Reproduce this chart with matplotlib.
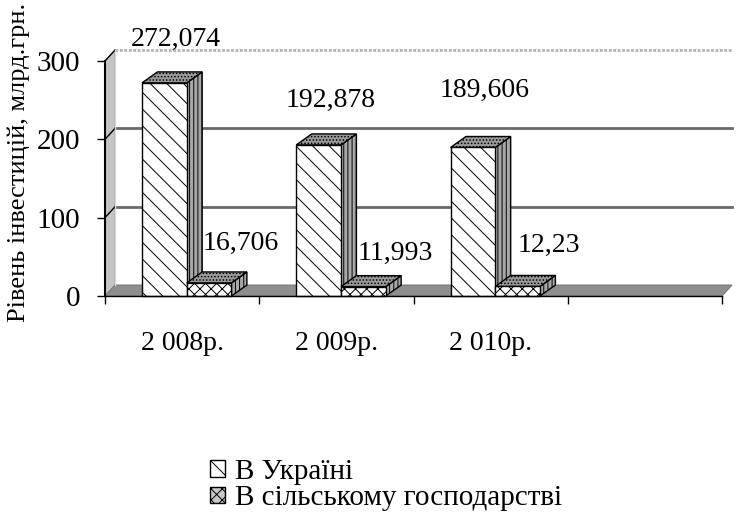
import matplotlib
matplotlib.use("Agg")
import matplotlib.pyplot as plt
from matplotlib.patches import Polygon, Patch
import numpy as np

plt.rcParams['font.family'] = ['Liberation Serif', 'DejaVu Serif']
plt.rcParams['hatch.linewidth'] = 0.7

# дані
years = ['2 008р.', '2 009р.', '2 010р.']
ukraine = [272.074, 192.878, 189.606]
agri = [16.706, 11.993, 12.23]
ukraine_lbl = ['272,074', '192,878', '189,606']
agri_lbl = ['16,706', '11,993', '12,23']
series_names = ['В Україні', 'В сільському господарстві']
yticks = [0, 100, 200, 300]

# зсув підписів (вручну, як в оригіналі)
uk_dy = [55, 57, 73]
ag_dy = [51, 43, 52]

fig = plt.figure(figsize=(7.4, 5.13), dpi=100)
ax = fig.add_axes([105/740, 1-296/513, 617/740, 235/513])
ax.set_xlim(0, 4)
ax.set_ylim(0, 300)

# глибина "3D"
fdx, fdy = 0.065, 14      # стінки / підлога
bdx, bdy = 0.10, 14       # стовпчики
ymax = 300

# бічна стінка
ax.add_patch(Polygon([(0, 0), (fdx, fdy), (fdx, ymax + fdy), (0, ymax)],
                     closed=True, fc='#c4c4c4', ec='#9a9a9a', lw=0.8, clip_on=False, zorder=1))
# підлога
ax.add_patch(Polygon([(0, 0), (4, 0), (4 + fdx, fdy), (fdx, fdy)],
                     closed=True, fc='#8e8e8e', ec='#7a7a7a', lw=0.8, clip_on=False, zorder=1))
# сітка на задній стінці
for v in yticks[1:]:
    if v == ymax:
        ax.plot([fdx, 4 + fdx], [v + fdy, v + fdy], color='#b5b5b5', lw=2, ls=(0, (1, 0.6)),
                clip_on=False, zorder=1)
    else:
        ax.plot([fdx, 4 + fdx], [v + fdy, v + fdy], color='#6a6a6a', lw=2, clip_on=False, zorder=1)
    ax.plot([0, fdx], [v, v + fdy], color='black', lw=1, clip_on=False, zorder=1)
ax.plot([fdx, fdx], [fdy, ymax + fdy], color='#d9d9d9', lw=1, clip_on=False, zorder=1)

off, w = 0.24, 0.29
x = np.arange(len(years))


def bar3d(x0, v, front_hatch, z):
    ax.add_patch(Polygon([(x0 + w, 0), (x0 + w + bdx, bdy), (x0 + w + bdx, v + bdy), (x0 + w, v)],
                         closed=True, fc='#a8a8a8', ec='black', lw=1, hatch='||||',
                         clip_on=False, zorder=z))
    ax.add_patch(Polygon([(x0, v), (x0 + w, v), (x0 + w + bdx, v + bdy), (x0 + bdx, v + bdy)],
                         closed=True, fc='#9a9a9a', ec='black', lw=1, hatch='.....',
                         clip_on=False, zorder=z))
    ax.bar(x0, v, width=w, align='edge', bottom=0, fc='white', ec='black', lw=1,
           hatch=front_hatch, zorder=z + 0.5, clip_on=False)


for i in range(len(years)):
    bar3d(x[i] + off, ukraine[i], '\\\\', 3 + i * 2)
    bar3d(x[i] + off + w, agri[i], 'xxx', 4 + i * 2)
    ax.text(x[i] + 0.46, ukraine[i] + uk_dy[i], ukraine_lbl[i], ha='center', va='center',
            fontsize=20, zorder=20)
    ax.text(x[i] + 0.88, agri[i] + ag_dy[i], agri_lbl[i], ha='center', va='center',
            fontsize=20, zorder=20)

for s in ['top', 'right']:
    ax.spines[s].set_visible(False)
ax.spines['left'].set_linewidth(1.5)
ax.spines['bottom'].set_linewidth(1)
ax.spines['left'].set_zorder(15)
ax.spines['bottom'].set_zorder(15)
ax.patch.set_visible(False)

ax.set_yticks(yticks)
ax.set_yticklabels([str(t) for t in yticks], fontsize=21)
ax.tick_params(axis='y', direction='out', length=6, width=1, pad=12)
ax.set_xticks([0, 1, 2, 3, 4])
ax.set_xticklabels([])
ax.tick_params(axis='x', which='major', direction='out', length=6, width=1)
ax.set_xticks(x + 0.5, minor=True)
ax.set_xticklabels(years, minor=True, fontsize=20)
ax.tick_params(axis='x', which='minor', length=0, pad=25)

fig.text(19/740, 1-162/513, 'Рівень інвестицій, млрд.грн.', rotation=90,
         ha='center', va='center', fontsize=19)

handles = [Patch(fc='white', ec='black', hatch='\\\\', lw=1),
           Patch(fc='#c8c8c8', ec='black', hatch='xxx', lw=1)]
fig.legend(handles, series_names, loc='center left', bbox_to_anchor=(210/740, 1-485/513),
           frameon=False, fontsize=21, handlelength=0.5, handleheight=0.5,
           handletextpad=0.35, labelspacing=0.02, borderpad=0, borderaxespad=0)

fig.savefig('out.png', dpi=100)
